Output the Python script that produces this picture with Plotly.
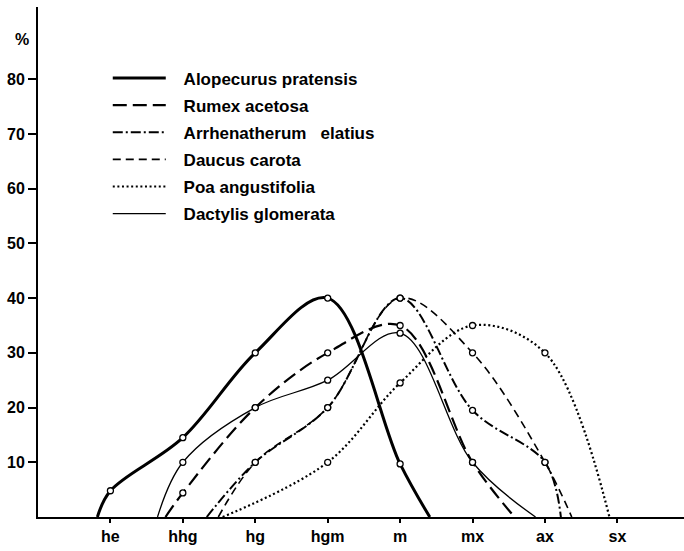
import plotly.graph_objects as go

categories = ["he", "hhg", "hg", "hgm", "m", "mx", "ax", "sx"]
y_ticks = [10, 20, 30, 40, 50, 60, 70, 80]

# curve positions (category index) and values (%), including zero end points
alo_x = [-0.18, 0, 1, 2, 3, 4, 4.41]
alo_y = [0, 4.8, 14.5, 30, 40, 9.7, 0]
rum_x = [0.76, 1, 2, 3, 4, 5, 5.58]
rum_y = [0, 4.4, 20, 30, 35, 10, 0]
arr_x = [1.33, 2, 3, 4, 5, 6, 6.22]
arr_y = [0, 10, 20, 40, 19.5, 10, 0]
dau_x = [1.49, 2, 3, 4, 5, 6, 6.37]
dau_y = [0, 10, 20, 40, 30, 10, 0]
poa_x = [1.55, 3, 4, 5, 6, 6.89]
poa_y = [0, 10, 24.5, 35, 30, 0]
dac_x = [0.65, 1, 2, 3, 4, 5, 5.87]
dac_y = [0, 10, 20, 25, 33.6, 10, 0]

pad = "\u00a0\u00a0\u2009"
series = [
    ("Alopecurus pratensis", alo_x, alo_y, 3.0, "solid"),
    ("Rumex acetosa", rum_x, rum_y, 2.2, "14px,6px"),
    ("Arrhenatherum\u00a0\u00a0\u00a0elatius", arr_x, arr_y, 2.0, "10px,3px,2px,3px"),
    ("Daucus carota", dau_x, dau_y, 1.6, "8px,5px"),
    ("Poa angustifolia", poa_x, poa_y, 2.2, "2px,2.6px"),
    ("Dactylis glomerata", dac_x, dac_y, 1.3, "solid"),
]

fig = go.Figure()
for i, (name, xs, ys, w, dash) in enumerate(series):
    fig.add_trace(go.Scatter(
        x=xs, y=ys, mode="lines", name=pad + name, legendgroup=f"g{i}",
        line=dict(color="black", width=w, dash=dash, shape="spline", smoothing=1.0),
        hoverinfo="skip"))
for i, (name, xs, ys, w, dash) in enumerate(series):
    fig.add_trace(go.Scatter(
        x=xs[1:-1], y=ys[1:-1], mode="markers", showlegend=False, legendgroup=f"g{i}",
        marker=dict(symbol="circle", size=6, color="white",
                    line=dict(color="black", width=1.3)),
        hoverinfo="skip"))

font_main = "Liberation Sans"
fig.update_layout(
    width=684, height=551,
    margin=dict(l=38, r=0, t=7, b=34),
    paper_bgcolor="white", plot_bgcolor="white",
    showlegend=True,
    legend=dict(x=0.108, y=0.895, xanchor="left", yanchor="top",
                bgcolor="rgba(0,0,0,0)", borderwidth=0,
                font=dict(family=font_main, size=17, color="black", weight="bold"),
                itemwidth=53, tracegroupgap=2, traceorder="grouped"),
    xaxis=dict(range=[-1.0, 7.92], tickmode="array", tickvals=list(range(len(categories))),
               ticktext=categories, showgrid=False, zeroline=False,
               showline=True, linecolor="black", linewidth=2,
               ticks="outside", ticklen=4, tickwidth=1.5, tickcolor="black",
               tickfont=dict(family=font_main, size=16, color="black", weight="bold")),
    yaxis=dict(range=[0, 93.2], tickmode="array", tickvals=y_ticks,
               showgrid=False, zeroline=False,
               showline=True, linecolor="black", linewidth=2,
               ticks="outside", ticklen=8, tickwidth=1.5, tickcolor="black",
               tickfont=dict(family=font_main, size=16, color="black", weight="bold")),
    annotations=[dict(text="%", xref="paper", yref="paper", x=-0.025, y=0.937,
                      showarrow=False, xanchor="center", yanchor="middle",
                      font=dict(family=font_main, size=16, color="black", weight="bold"))],
)

fig.write_html("out.html")
